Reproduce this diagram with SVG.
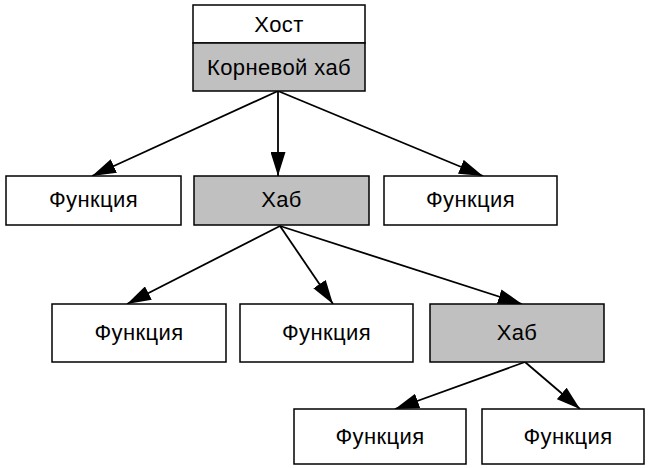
<svg xmlns="http://www.w3.org/2000/svg" width="648" height="468" viewBox="0 0 648 468">
<style>
.box{stroke:#000;stroke-width:1.5}
.w{fill:#fff}
.g{fill:#c0c0c0}
text{font-family:"Liberation Sans",Arial,sans-serif;font-size:22px;letter-spacing:0.4px;text-anchor:middle;dominant-baseline:central;fill:#000}
.e{stroke:#000;stroke-width:1.8;fill:none;marker-end:url(#ah)}
</style>
<defs>
<marker id="ah" markerUnits="userSpaceOnUse" viewBox="0 0 24 15" refX="24" refY="7.5" markerWidth="24" markerHeight="15" orient="auto">
<path d="M0,0 L24,7.5 L0,15 Z" fill="#000"/>
</marker>
</defs>
<rect width="648" height="468" fill="#fff"/>
<g id="connectors">
<line class="e" x1="278" y1="91" x2="92" y2="176"/>
<line class="e" x1="278" y1="91" x2="278" y2="176"/>
<line class="e" x1="278" y1="91" x2="483" y2="176"/>
<line class="e" x1="280" y1="226" x2="127" y2="304"/>
<line class="e" x1="280" y1="226" x2="333" y2="304"/>
<line class="e" x1="280" y1="226" x2="522" y2="304"/>
<line class="e" x1="525" y1="362" x2="395" y2="409"/>
<line class="e" x1="525" y1="362" x2="580" y2="409"/>
</g>
<g id="host">
<rect class="box w" x="193" y="5" width="172" height="38"/>
<text x="279" y="24">Хост</text>
</g>
<g id="roothub">
<rect class="box g" x="193" y="43" width="172" height="48"/>
<text x="279" y="67">Корневой хаб</text>
</g>
<g id="f1">
<rect class="box w" x="6" y="176" width="175" height="49"/>
<text x="93.5" y="199">Функция</text>
</g>
<g id="hub1">
<rect class="box g" x="194" y="176" width="175" height="49"/>
<text x="281.5" y="199">Хаб</text>
</g>
<g id="f2">
<rect class="box w" x="384" y="176" width="173" height="49"/>
<text x="470.5" y="199">Функция</text>
</g>
<g id="f3">
<rect class="box w" x="52" y="304" width="174" height="58"/>
<text x="139" y="332">Функция</text>
</g>
<g id="f4">
<rect class="box w" x="240" y="304" width="173" height="58"/>
<text x="326.5" y="332">Функция</text>
</g>
<g id="hub2">
<rect class="box g" x="430" y="304" width="174" height="58"/>
<text x="517" y="332">Хаб</text>
</g>
<g id="f5">
<rect class="box w" x="294" y="409" width="172" height="55"/>
<text x="380" y="436">Функция</text>
</g>
<g id="f6">
<rect class="box w" x="482" y="409" width="162" height="55"/>
<text x="568" y="436">Функция</text>
</g>
</svg>
